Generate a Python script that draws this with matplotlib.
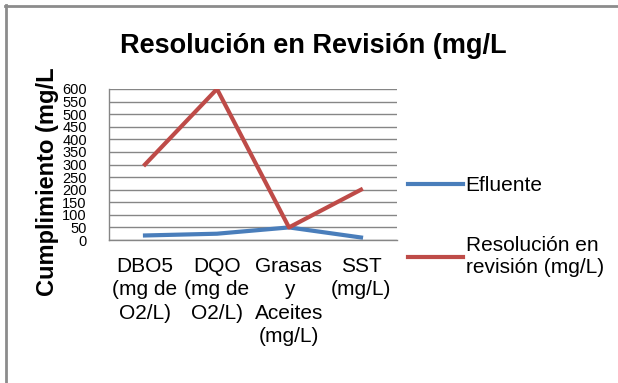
import matplotlib.pyplot as plt
from matplotlib.lines import Line2D
import numpy as np

plt.rcParams['font.family'] = ['Liberation Sans', 'DejaVu Sans']

# data to plot
categorias = ['DBO5\n(mg de\nO2/L)', 'DQO\n(mg de\nO2/L)', 'Grasas\ny\nAceites\n(mg/L)', 'SST\n(mg/L)']
efluente = [18, 25, 50, 10]
resolucion = [300, 600, 50, 200]
y_ticks = list(range(0, 601, 50))

fig = plt.figure(figsize=(6.18, 3.83), dpi=100)
ax = fig.add_axes([109 / 618, 1 - 240 / 383, 288 / 618, 151 / 383])

x = np.arange(len(categorias))
ax.plot(x, efluente, color='#4a7ebb', linewidth=3, label='Efluente')
ax.plot(x, resolucion, color='#be4b48', linewidth=3, label='Resolución en\nrevisión (mg/L)')

ax.set_xlim(-0.5, len(categorias) - 0.5)
ax.set_ylim(0, 600)
ax.set_yticks(y_ticks)
ax.set_yticklabels([str(v) for v in y_ticks], fontsize=10.5)
ax.set_xticks(x)
ax.set_xticklabels(categorias, fontsize=15, linespacing=1.3)
ax.tick_params(axis='both', length=0)
ax.tick_params(axis='y', pad=16)
ax.tick_params(axis='x', pad=12)
ax.yaxis.grid(True, color='#868686', linewidth=1)
ax.set_axisbelow(True)
for s in ['top', 'right']:
    ax.spines[s].set_visible(False)
for s in ['left', 'bottom']:
    ax.spines[s].set_color('#868686')
    ax.spines[s].set_linewidth(1)

fig.text(313 / 618, 1 - 46 / 383, 'Resolución en Revisión (mg/L', fontsize=19.5,
         fontweight='bold', ha='center', va='center')
fig.text(48 / 618, 1 - 182 / 383, 'Cumplimiento (mg/L', fontsize=17,
         fontweight='bold', ha='center', va='center', rotation=90)

# leyenda
leg = fig.legend(loc='upper left', bbox_to_anchor=(400 / 618, 1 - 168 / 383),
                 frameon=False, fontsize=15, handlelength=2.6, handletextpad=0.15,
                 labelspacing=1.95, borderaxespad=0)

# marco del gráfico
fig.add_artist(Line2D([5 / 618, 1], [1 - 6 / 383, 1 - 6 / 383], color='#8c8c8c', linewidth=2))
fig.add_artist(Line2D([6 / 618, 6 / 618], [0, 1 - 5 / 383], color='#8c8c8c', linewidth=2))

plt.savefig('out.png', dpi=100)
